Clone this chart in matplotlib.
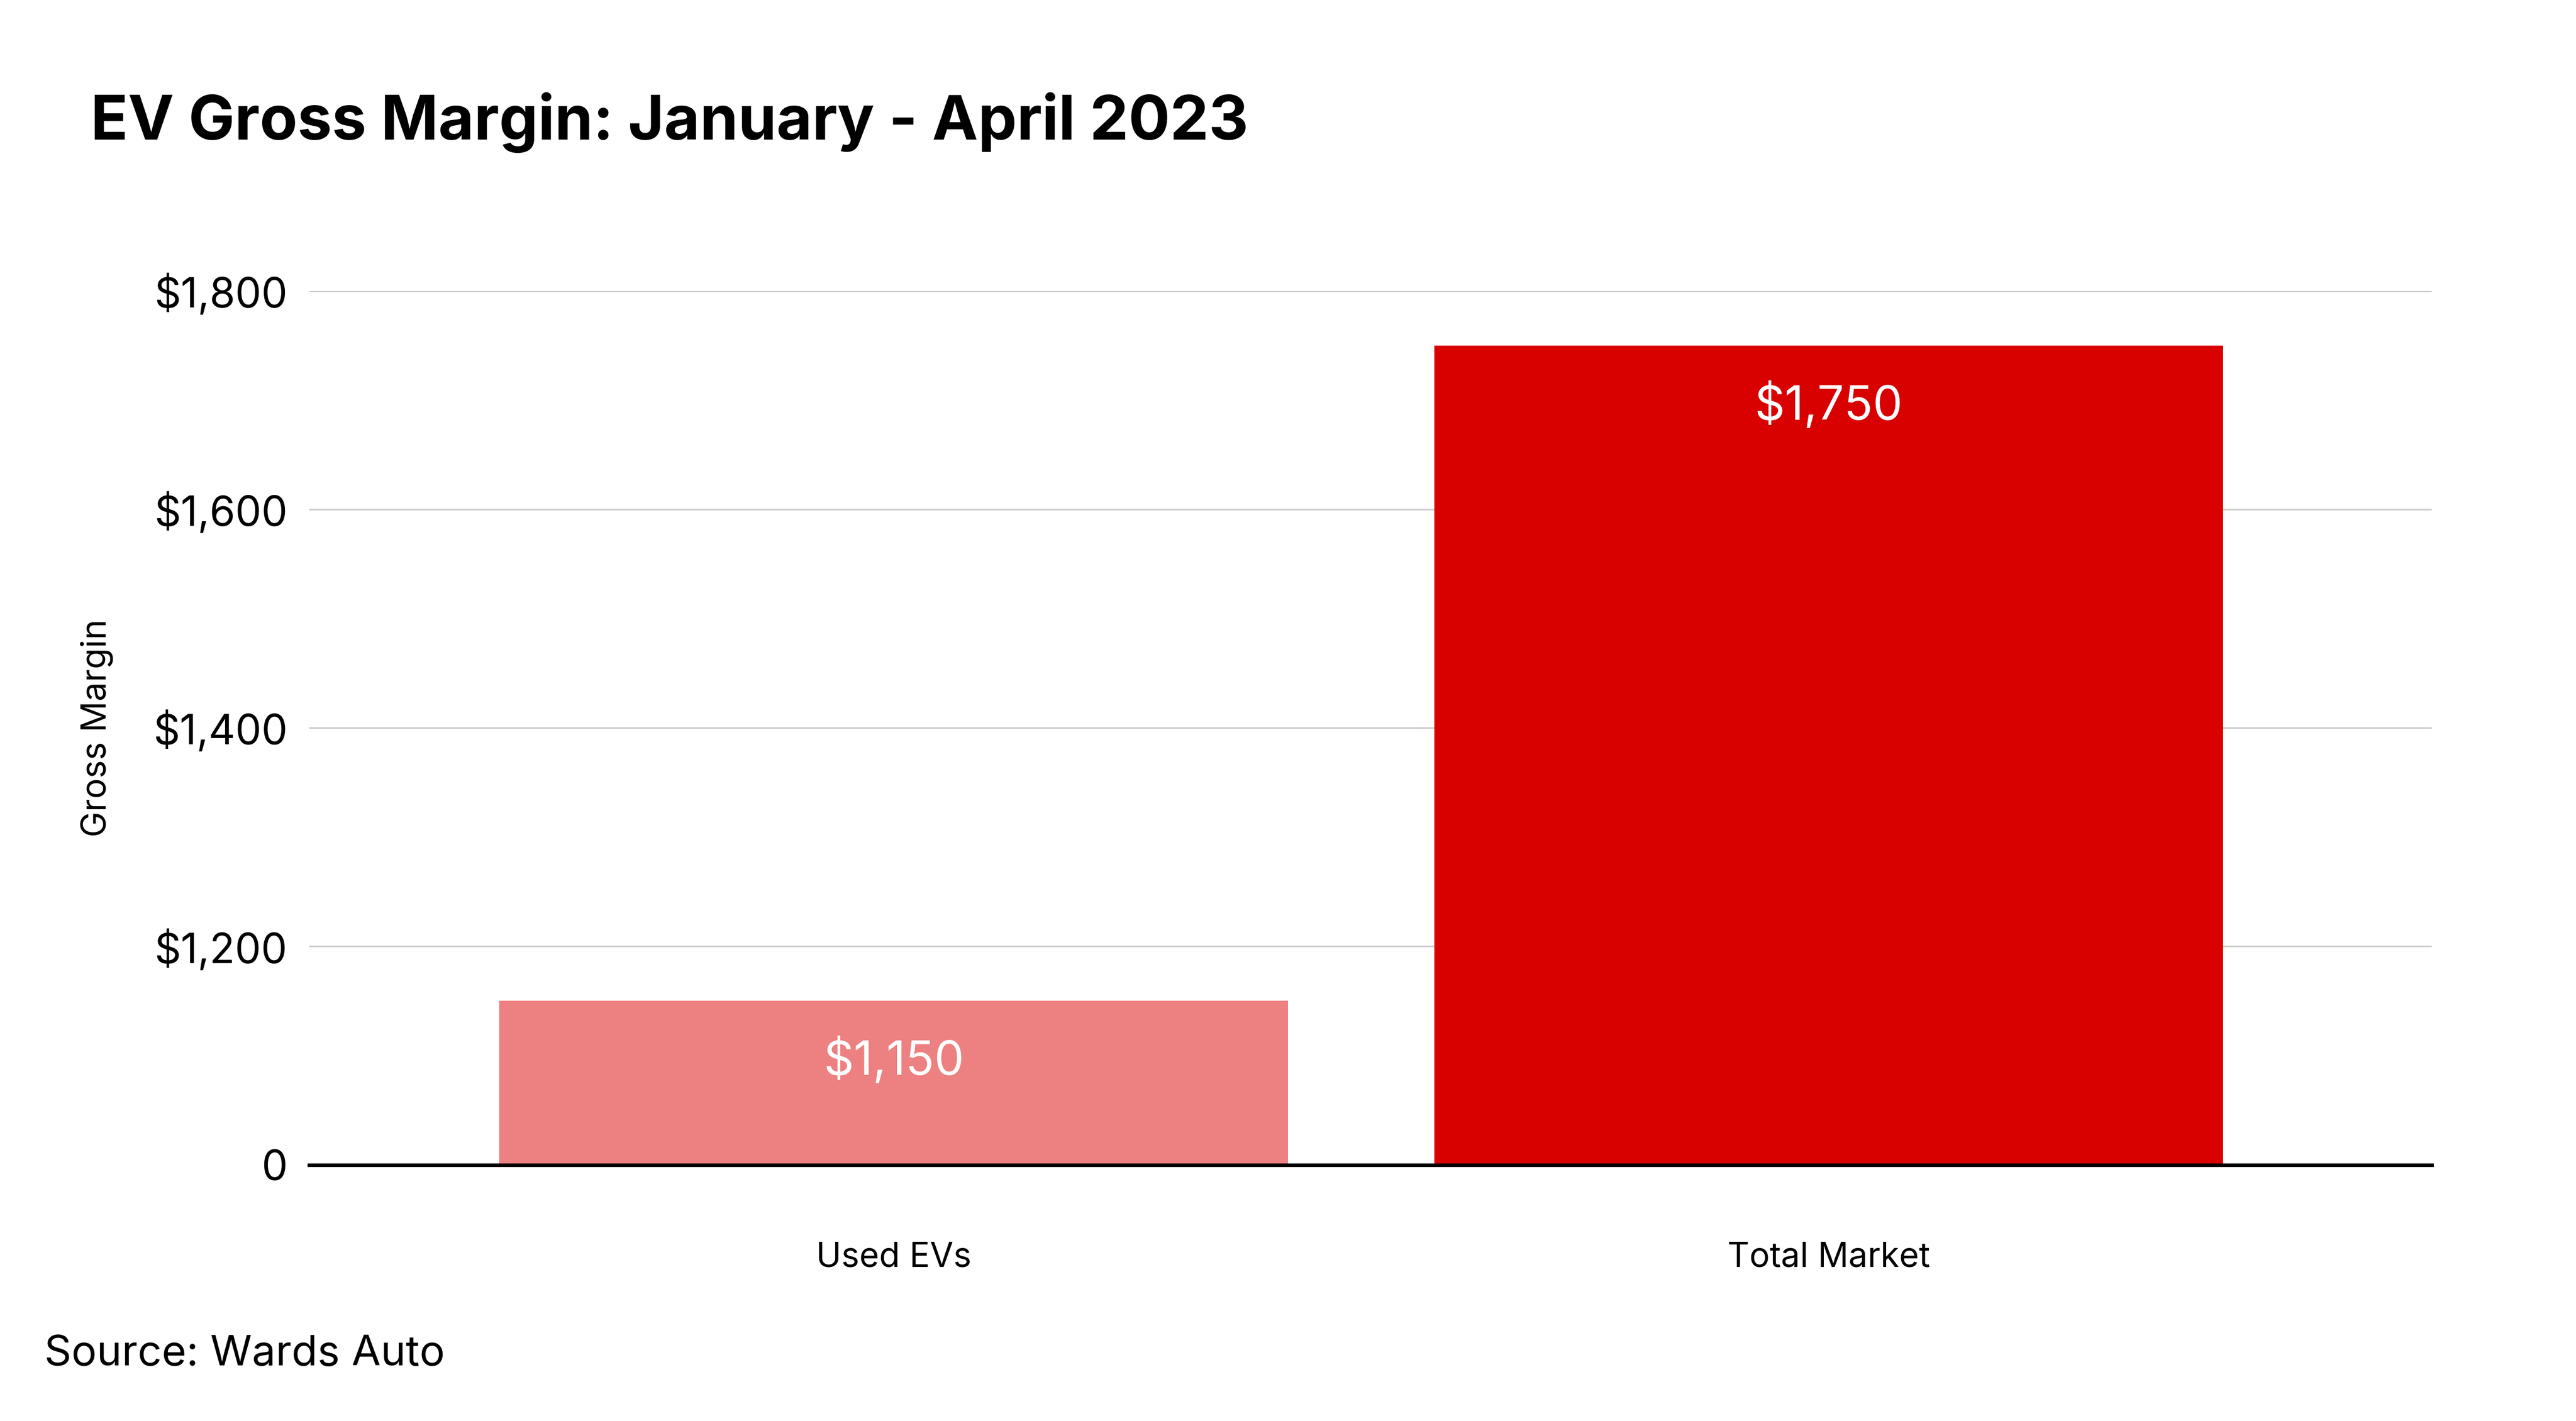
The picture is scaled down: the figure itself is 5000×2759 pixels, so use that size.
import numpy as np
import matplotlib.pyplot as plt

plt.rcParams['font.family'] = ['Inter', 'DejaVu Sans']

# data
categories = ['Used EVs', 'Total Market']
margins = [1150, 1750]
value_labels = ['$1,150', '$1,750']
bar_colors = ['#ED8080', '#D90000']
ytick_values = [1000, 1200, 1400, 1600, 1800]
ytick_labels = ['0', '$1,200', '$1,400', '$1,600', '$1,800']

fig = plt.figure(figsize=(50, 27.59), dpi=100)
ax = fig.add_axes([0.1199, 0.1803, 0.824, 0.615])

x = np.arange(len(categories))
bars = ax.bar(x, margins, width=0.8436, color=bar_colors, zorder=2)

ax.set_ylim(1000, 1800)
ax.set_xlim(-0.6257, 1.645)
ax.set_yticks(ytick_values)
ax.set_yticklabels(ytick_labels)
ax.set_xticks(x)
ax.set_xticklabels(categories)

ax.grid(axis='y', color='#CCCCCC', linewidth=2.2, zorder=0)
ax.set_axisbelow(True)
for s in ['top', 'right', 'left']:
    ax.spines[s].set_visible(False)
ax.spines['bottom'].set_color('black')
ax.spines['bottom'].set_linewidth(5)
ax.spines['bottom'].set_zorder(3)

ax.tick_params(axis='y', length=0, pad=30, labelsize=58)
ax.tick_params(axis='x', length=0, pad=107, labelsize=47.5)

ax.set_ylabel('Gross Margin', fontsize=48)
ax.yaxis.set_label_coords(-0.092, 0.5)

# value labels inside bars
for xi, v, lab in zip(x, margins, value_labels):
    ax.annotate(lab, (xi, v), xytext=(0, -84), textcoords='offset points',
                ha='center', va='center', color='white', fontsize=66)

fig.text(0.0351, 0.9017, 'EV Gross Margin: January - April 2023',
         fontsize=86, fontweight='bold', ha='left', va='baseline')
fig.text(0.0172, 0.0393, 'Source: Wards Auto', fontsize=59,
         ha='left', va='baseline')

fig.savefig('out.png', dpi=100, facecolor='white')
